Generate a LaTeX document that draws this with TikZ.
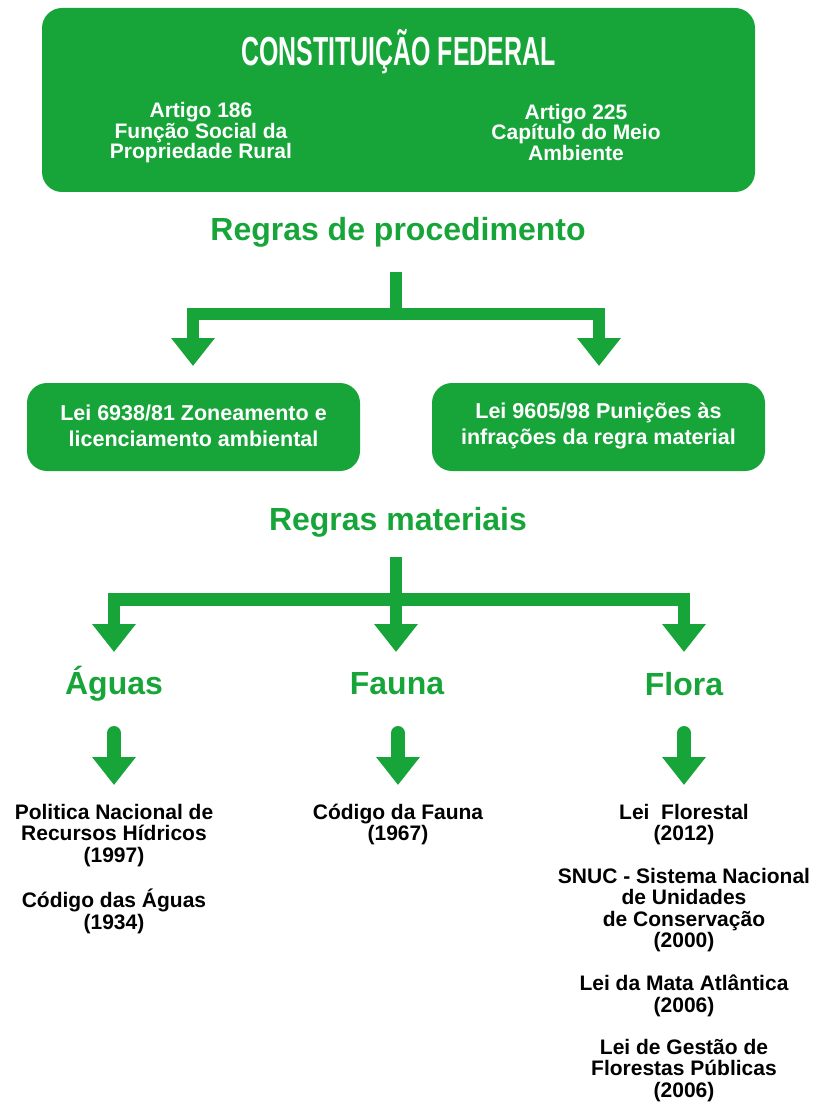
\documentclass[tikz,border=0pt]{standalone}
\usepackage{fontspec}
\setmainfont{Liberation Sans}
\usetikzlibrary{arrows.meta}
\definecolor{verde}{RGB}{23,165,58}
\tikzset{
  gbox/.style={fill=verde, draw=none, rounded corners=20pt},
  wtext/.style={text=white, font=\bfseries\fontsize{21}{20.5}\selectfont, align=center, inner sep=0pt},
  leitext/.style={text=white, font=\bfseries\fontsize{21.5}{26}\selectfont, align=center, inner sep=0pt},
  gtitle/.style={text=verde, font=\bfseries\fontsize{32}{32}\selectfont, inner sep=0pt},
  btext/.style={text=black, font=\bfseries\fontsize{21}{21.3}\selectfont, align=center, inner sep=0pt},
  bigarrow/.style={draw=verde, line width=12.5pt, line cap=butt, line join=miter,
    -{Triangle[width=42pt,length=28pt]}},
  smallarrow/.style={draw=verde, line width=14pt, line cap=round,
    -{Triangle[width=42pt,length=28pt]}},
  branch/.style={draw=verde, line width=12.5pt, line cap=butt, line join=miter},
}
\begin{document}
\begin{tikzpicture}[x=1pt,y=-1pt]
\useasboundingbox (0,0) rectangle (817,1102);

% Constituicao box
\node[gbox, minimum width=713pt, minimum height=184pt] (cf) at (398.5,100) {};
\node[text=white, inner sep=0pt, anchor=base] (cftitle) at (398.5,66)
  {\scalebox{0.615}[1]{\bfseries\fontsize{40.5}{40.5}\selectfont CONSTITUIÇÃO FEDERAL}};
\node[wtext] (art186) at (201,133) {Artigo 186\\Função Social da\\Propriedade Rural};
\node[wtext] (art225) at (576,132) {Artigo 225\\Capítulo do Meio\\Ambiente};

% Regras de procedimento
\node[gtitle] (rp) at (398,232) {Regras de procedimento};
\coordinate (rpstem) at (396,272);
\coordinate (rpbar) at (396,314);
\coordinate (rpleft) at (193,314);
\coordinate (rpright) at (599,314);

\node[gbox, minimum width=333pt, minimum height=88pt] (lei1) at (193.5,427) {};
\node[leitext] (lei1t) at (193.5,426) {Lei 6938/81 Zoneamento e\\licenciamento ambiental};
\node[gbox, minimum width=333pt, minimum height=88pt] (lei2) at (598.5,427) {};
\node[leitext] (lei2t) at (598.5,426) {Lei 9605/98 Punições às\\infrações da regra material};

\draw[branch] (rpstem) -- (rpbar);
\draw[bigarrow] (rpbar) -- (rpleft) -- (rpleft |- 0,366) coordinate (rptipl);
\draw[bigarrow] (rpbar) -- (rpright) -- (rpright |- 0,366) coordinate (rptipr);

% Regras materiais
\node[gtitle] (rm) at (398,522) {Regras materiais};
\coordinate (rmstem) at (396,557);
\coordinate (rmbar) at (396,599.5);
\coordinate (rmleft) at (114,599.5);
\coordinate (rmright) at (684,599.5);
\coordinate (rmtipm) at (396,652);
\coordinate (rmtipl) at (114,652);
\coordinate (rmtipr) at (684,652);

\node[gtitle] (aguas) at (114,684) {Águas};
\node[gtitle] (fauna) at (397,684) {Fauna};
\node[gtitle] (flora) at (684,684) {Flora};

\draw[bigarrow] (rmbar) -- (rmleft) -- (rmtipl);
\draw[bigarrow] (rmbar) -- (rmright) -- (rmtipr);
\draw[bigarrow] (rmstem) -- (rmtipm);

% small arrows
\coordinate (aga) at (114,733);
\coordinate (agb) at (114,785);
\coordinate (faa) at (398,733);
\coordinate (fab) at (398,785);
\coordinate (fla) at (684,733);
\coordinate (flb) at (684,785);
\draw[smallarrow] (aga) -- (agb);
\draw[smallarrow] (faa) -- (fab);
\draw[smallarrow] (fla) -- (flb);

% bottom texts
\node[btext, anchor=north] (pnrh) at (114,804) {Politica Nacional de\\Recursos Hídricos\\(1997)};
\node[btext, anchor=north] (cagua) at (114,889) {Código das Águas\\(1934)};
\node[btext, anchor=north] (cfauna) at (398,804) {Código da Fauna\\(1967)};
\node[btext, anchor=north] (lflor) at (684,804) {Lei \ Florestal\\(2012)};
\node[btext, anchor=north] (snuc) at (684,868) {SNUC - Sistema Nacional\\de Unidades\\de Conservação\\(2000)};
\node[btext, anchor=north] (mata) at (684,975) {Lei da Mata Atlântica\\(2006)};
\node[btext, anchor=north] (gest) at (684,1039) {Lei de Gestão de\\Florestas Públicas\\(2006)};
\end{tikzpicture}
\end{document}
